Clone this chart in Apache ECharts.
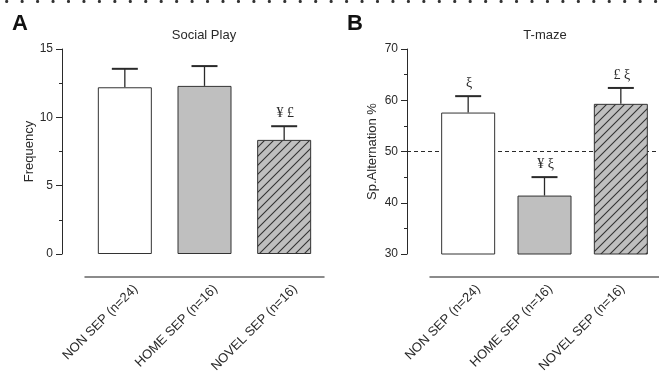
<!DOCTYPE html>
<html>
<head>
<meta charset="utf-8">
<script src="https://cdn.jsdelivr.net/npm/echarts@6/dist/echarts.min.js"></script>
<style>html,body{margin:0;padding:0;background:#fff}#c{width:659px;height:378px}</style>
</head>
<body>
<div id="c"></div>
<script>
// ---- data ----
const categories = ['NON SEP (n=24)', 'HOME SEP (n=16)', 'NOVEL SEP (n=16)'];
const playMean = [12.2, 12.3, 8.35];
const playSem = [1.35, 1.45, 1.0];
const playMarks = ['', '', '¥ £'];
const tmazeMean = [57.6, 41.4, 59.3];
const tmazeSem = [3.2, 3.6, 3.1];
const tmazeMarks = ['ξ', '¥ ξ', '£ ξ'];
const chanceLevel = 50;
const playTicks = {min: 0, max: 15, interval: 5};
const tmazeTicks = {min: 30, max: 70, interval: 10};

// ---- styles ----
const FONT = '"Liberation Sans", Arial, sans-serif';
const INK = '#2a2a2a';
const GRAY = '#bfbfbf';

function hatch() {
  const s = 9;
  const cv = document.createElement('canvas');
  cv.width = s; cv.height = s;
  const g = cv.getContext('2d');
  g.fillStyle = GRAY; g.fillRect(0, 0, s, s);
  g.strokeStyle = '#333'; g.lineWidth = 1.1;
  g.beginPath();
  g.moveTo(-1, s + 1); g.lineTo(s + 1, -1);
  g.moveTo(-1, 1); g.lineTo(1, -1);
  g.moveTo(s - 1, s + 1); g.lineTo(s + 1, s - 1);
  g.stroke();
  return cv;
}
const fills = ['#ffffff', GRAY, {image: hatch(), repeat: 'repeat'}];

function barData(vals) {
  return vals.map((v, i) => ({value: v, itemStyle: {color: fills[i]}}));
}
function errData(mean, sem) {
  return mean.map((m, i) => [i, m + sem[i], m]);
}
function markData(mean, sem) {
  return mean.map((m, i) => [i, m + sem[i]]);
}
function errItem(params, api) {
  const top = api.coord([api.value(0), api.value(1)]);
  const base = api.coord([api.value(0), api.value(2)]);
  const hw = 13;
  return {type: 'group', children: [
    {type: 'line', shape: {x1: base[0], y1: base[1], x2: top[0], y2: top[1]}, style: {stroke: INK, lineWidth: 1.3}},
    {type: 'line', shape: {x1: top[0] - hw, y1: top[1], x2: top[0] + hw, y2: top[1]}, style: {stroke: INK, lineWidth: 2}}
  ]};
}
const markList = {playMarks: playMarks, tmazeMarks: tmazeMarks};
function markItem(params, api) {
  const p = api.coord([api.value(0), api.value(1)]);
  const txt = markList[params.seriesName][params.dataIndex];
  return {type: 'text', x: p[0] + 1, y: p[1] - 6,
    style: {text: txt, font: '14px "Liberation Serif", serif', fill: INK, align: 'center', verticalAlign: 'bottom'}};
}

function yAxis(gi, t, name, gap) {
  return {
    type: 'value', gridIndex: gi, min: t.min, max: t.max, interval: t.interval, offset: 23,
    name: name, nameLocation: 'middle', nameGap: gap, nameRotate: 90,
    nameTextStyle: {fontFamily: FONT, fontSize: 13, color: INK},
    axisLine: {show: true, lineStyle: {color: INK, width: 1}},
    axisTick: {show: true, length: 6, lineStyle: {color: INK}},
    minorTick: {show: true, splitNumber: 2, length: 3, lineStyle: {color: INK}},
    axisLabel: {fontFamily: FONT, fontSize: 12, color: INK, margin: 9},
    splitLine: {show: false}
  };
}
function xAxisLine(gi) {
  return {
    type: 'category', gridIndex: gi, data: categories, offset: 23,
    axisLine: {show: true, onZero: false, lineStyle: {color: '#666', width: 1.5}},
    axisTick: {show: false},
    axisLabel: {show: false}
  };
}
function xAxisLabels(gi) {
  return {
    type: 'category', gridIndex: gi, data: categories, offset: 23,
    axisLine: {show: false, onZero: false},
    axisTick: {show: false},
    axisLabel: {rotate: 45, fontFamily: FONT, fontSize: 13, color: INK, margin: 10, interval: 0}
  };
}
function hiddenY(gi) {
  return {type: 'value', gridIndex: gi, min: 0, max: 1, show: false};
}

const chart = echarts.init(document.getElementById('c'), null, {renderer: 'canvas'});
chart.setOption({
  animation: false,
  backgroundColor: '#fff',
  title: [
    {text: 'Social Play', left: 204, top: 29, padding: 0, textAlign: 'center', textStyle: {fontFamily: FONT, fontSize: 13, fontWeight: 'normal', color: INK}},
    {text: 'T-maze', left: 545, top: 29, padding: 0, textAlign: 'center', textStyle: {fontFamily: FONT, fontSize: 13, fontWeight: 'normal', color: INK}},
    {text: 'A', left: 12, top: 13, padding: 0, textStyle: {fontFamily: FONT, fontSize: 22, fontWeight: 'bold', color: '#111'}},
    {text: 'B', left: 347, top: 13, padding: 0, textStyle: {fontFamily: FONT, fontSize: 22, fontWeight: 'bold', color: '#111'}}
  ],
  graphic: [
    {type: 'line', shape: {x1: 6.7, y1: 1.5, x2: 659, y2: 1.5},
     style: {stroke: '#333', lineWidth: 3.2, lineCap: 'round', lineDash: [0, 15.45]}}
  ],
  grid: [
    {left: 85, width: 239, top: 49, height: 205},
    {left: 430, width: 239, top: 49, height: 205},
    {left: 407, width: 249, top: 49, height: 205},
    {left: 96, width: 239, top: 49, height: 205},
    {left: 442, width: 239, top: 49, height: 205}
  ],
  xAxis: [
    xAxisLine(0), xAxisLine(1),
    {type: 'value', gridIndex: 2, min: 0, max: 1, show: false},
    xAxisLabels(3), xAxisLabels(4)
  ],
  yAxis: [
    yAxis(0, playTicks, 'Frequency', 26.5),
    yAxis(1, tmazeTicks, 'Sp.Alternation %', 28.5),
    {type: 'value', gridIndex: 2, min: tmazeTicks.min, max: tmazeTicks.max, show: false},
    hiddenY(3), hiddenY(4)
  ],
  series: [
    {type: 'line', xAxisIndex: 2, yAxisIndex: 2, data: [[0, chanceLevel], [1, chanceLevel]], symbol: 'none', z: 1,
     lineStyle: {color: INK, width: 1, type: [4, 3]}},
    {type: 'bar', xAxisIndex: 0, yAxisIndex: 0, data: barData(playMean), barWidth: 54, z: 3,
     itemStyle: {borderColor: '#333', borderWidth: 1}},
    {type: 'bar', xAxisIndex: 1, yAxisIndex: 1, data: barData(tmazeMean), barWidth: 54, z: 3,
     itemStyle: {borderColor: '#333', borderWidth: 1}},
    {type: 'custom', xAxisIndex: 0, yAxisIndex: 0, data: errData(playMean, playSem), renderItem: errItem, z: 2},
    {type: 'custom', xAxisIndex: 1, yAxisIndex: 1, data: errData(tmazeMean, tmazeSem), renderItem: errItem, z: 2},
    {type: 'custom', name: 'playMarks', xAxisIndex: 0, yAxisIndex: 0, data: markData(playMean, playSem), renderItem: markItem, z: 4},
    {type: 'custom', name: 'tmazeMarks', xAxisIndex: 1, yAxisIndex: 1, data: markData(tmazeMean, tmazeSem), renderItem: markItem, z: 4}
  ]
});
</script>
</body>
</html>
